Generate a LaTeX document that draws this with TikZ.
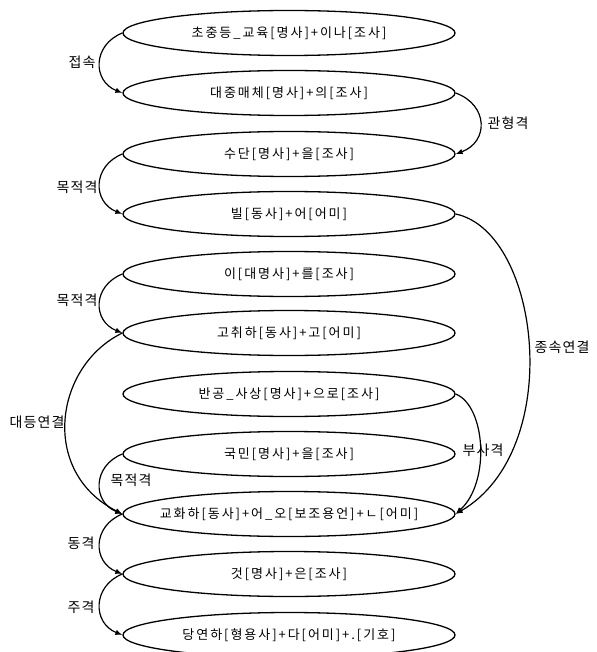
\documentclass[tikz,border=0pt]{standalone}
\usepackage{fontspec}
\setmainfont{Noto Sans CJK KR}
\newfontfamily\krnode[LetterSpace=15]{Noto Sans CJK KR}
\newfontfamily\krlab[LetterSpace=8]{Noto Sans CJK KR}
\usetikzlibrary{shapes.geometric,arrows.meta}
\begin{document}
\begin{tikzpicture}[x=1pt,y=-1pt,
  state/.style={draw, ellipse, line width=1.3pt, minimum width=332pt, minimum height=45pt, inner xsep=-60pt, inner ysep=0pt, font=\krnode\fontsize{13}{15}\selectfont},
  dep/.style={draw, line width=1.2pt, -{Latex[length=7pt,width=5.5pt]}},
  lab/.style={font=\krlab\fontsize{14}{16}\selectfont, inner sep=0pt}]
\useasboundingbox (0,0) rectangle (596,652);

\node[state] (n1)  at (289,33)  {초중등\_교육[명사]+이나[조사]};
\node[state] (n2)  at (289,93)  {대중매체[명사]+의[조사]};
\node[state] (n3)  at (289,154) {수단[명사]+을[조사]};
\node[state] (n4)  at (289,214) {빌[동사]+어[어미]};
\node[state] (n5)  at (289,274) {이[대명사]+를[조사]};
\node[state] (n6)  at (289,333) {고취하[동사]+고[어미]};
\node[state] (n7)  at (289,394) {반공\_사상[명사]+으로[조사]};
\node[state] (n8)  at (289,454) {국민[명사]+을[조사]};
\node[state] (n9)  at (289,514) {교화하[동사]+어\_오[보조용언]+ㄴ[어미]};
\node[state] (n10) at (289,574) {것[명사]+은[조사]};
\node[state] (n11) at (289,635) {당연하[형용사]+다[어미]+.[기호]};

\draw[dep] (n1.west) .. controls +(-30,12) and +(-30,-12) .. (n2.west);
\draw[dep] (n2.east) .. controls +(33,12) and +(33,-12) .. (n3.east);
\draw[dep] (n3.west) .. controls +(-30,12) and +(-30,-12) .. (n4.west);
\draw[dep] (n4.east) .. controls +(85,18) and +(110,-64) .. (n9.east);
\draw[dep] (n5.west) .. controls +(-30,12) and +(-30,-12) .. (n6.west);
\draw[dep] (n6.west) .. controls +(-68,33) and +(-83,-42) .. (n9.west);
\draw[dep] (n7.east) .. controls +(30,12) and +(35,-32) .. (n9.east);
\draw[dep] (n8.west) .. controls +(-30,12) and +(-30,-12) .. (n9.west);
\draw[dep] (n9.west) .. controls +(-30,12) and +(-30,-12) .. (n10.west);
\draw[dep] (n10.west) .. controls +(-30,12) and +(-30,-12) .. (n11.west);

\node[lab] (l1) at (82,62)   {접속};
\node[lab] (l2) at (508,123) {관형격};
\node[lab] (l3) at (77,187)  {목적격};
\node[lab] (l4) at (562,347) {종속연결};
\node[lab] (l5) at (77,300)  {목적격};
\node[lab] (l6) at (37,422)  {대등연결};
\node[lab] (l7) at (483,450) {부사격};
\node[lab] (l8) at (131,480) {목적격};
\node[lab] (l9) at (81,543)  {동격};
\node[lab] (l10) at (81,607) {주격};
\end{tikzpicture}
\end{document}
